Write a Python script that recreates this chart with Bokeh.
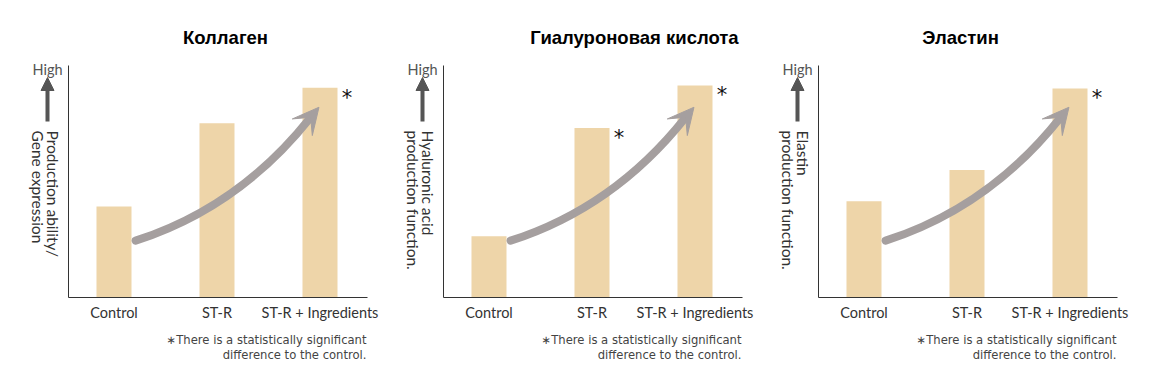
import math
from bokeh.plotting import figure
from bokeh.layouts import row
from bokeh.models import (Range1d, FixedTicker, Label, Arrow, NormalHead, VeeHead,
                          ColumnDataSource)
from bokeh.core.properties import value
from bokeh.embed import file_html
from bokeh.resources import INLINE

# ---- data ----
categories = ["Control", "ST-R", "ST-R + Ingredients"]
titles = ["Коллаген", "Гиалуроновая кислота", "Эластин"]
ylabels = [["Production ability/", "Gene expression"],
           ["Hyaluronic acid", "production function."],
           ["Elastin", "production function."]]
collagen = [39.2, 75.1, 90.4]
hyaluronic = [26.4, 73.1, 91.4]
elastin = [41.5, 55.0, 90.1]
values_all = [collagen, hyaluronic, elastin]
sig_collagen = [False, False, True]
sig_hyaluronic = [False, True, True]
sig_elastin = [False, False, True]
sig_all = [sig_collagen, sig_hyaluronic, sig_elastin]
footnote = ["\u2217There is a statistically significant", "difference to the control."]

# ---- styles / layout ----
BAR = "#eed5a9"
ARROW = "#a59f9f"
DARK = "#555555"
AX = "#333333"
H = 364
PX_X = 103.0    # pixels per category step
PX_Y = 2.32     # pixels per y unit
X0, X1 = -0.4417, 2.4612   # axis extent (data)
AXIS_BOTTOM = 297           # page y of y=0
title_x = [157, 191, 142]
# decorative trend arrow (start, control, shaft end, tip) in data units
ARR_X = [0.21, 1.21, 1.90, 1.99]
ARR_Y = [24.5, 38.8, 77.2, 82.0]

xpos = list(range(len(categories)))
figs = []
for i in range(3):
    axl = 68 if i == 0 else 60          # axis pixel offset inside this figure
    W = 383 if i == 0 else 375
    xs = X0 - axl / PX_X
    xr = Range1d(xs, xs + W / PX_X)
    yr = Range1d(-(H - AXIS_BOTTOM) / PX_Y, AXIS_BOTTOM / PX_Y)
    p = figure(width=W, height=H, x_range=xr, y_range=yr,
               output_backend="svg", toolbar_location=None,
               min_border=0, min_border_left=0, min_border_right=0,
               min_border_top=0, min_border_bottom=0)
    p.outline_line_color = None
    p.xgrid.visible = False
    p.ygrid.visible = False
    p.background_fill_color = "white"
    p.border_fill_color = "white"

    xa = p.xaxis[0]
    xa.fixed_location = 0
    xa.bounds = (X0, X1)
    xa.ticker = FixedTicker(ticks=xpos)
    xa.major_label_overrides = {k: c for k, c in zip(xpos, categories)}
    xa.major_tick_line_color = None
    xa.minor_tick_line_color = None
    xa.major_tick_out = 0
    xa.minor_tick_out = 0
    xa.axis_line_color = AX
    xa.major_label_text_font = "Lato"
    xa.major_label_text_font_size = "14.5px"
    xa.major_label_text_color = AX
    xa.major_label_standoff = 6

    ya = p.yaxis[0]
    ya.fixed_location = X0
    ya.bounds = (0, 100)
    ya.ticker = FixedTicker(ticks=[])
    ya.major_tick_line_color = None
    ya.minor_tick_line_color = None
    ya.major_tick_out = 0
    ya.minor_tick_out = 0
    ya.axis_line_color = AX
    ya.major_label_text_font_size = "0px"

    vals = values_all[i]
    src = ColumnDataSource(dict(x=xpos, top=vals))
    p.vbar(x="x", top="top", width=0.34, bottom=0, source=src, fill_color=BAR, line_color=None)

    sx = [x + 0.21 for x, s in zip(xpos, sig_all[i]) if s]
    sy = [v for v, s in zip(vals, sig_all[i]) if s]
    p.text(x=sx, y=sy, text=["*"] * len(sx), text_font=value("DejaVu Sans"),
           text_font_size="21px", text_align="left", text_baseline="top", text_color="#111111",
           x_offset=0, y_offset=-2)

    # curved trend arrow
    p.quadratic(x0=[ARR_X[0]], y0=[ARR_Y[0]], x1=[ARR_X[2]], y1=[ARR_Y[2]],
                cx=[ARR_X[1]], cy=[ARR_Y[1]], line_color=ARROW, line_width=8, line_cap="round")
    p.add_layout(Arrow(x_start=ARR_X[2], y_start=ARR_Y[2], x_end=ARR_X[3], y_end=ARR_Y[3],
                       line_alpha=0, line_width=1,
                       end=VeeHead(size=26, fill_color=ARROW, line_color=ARROW)))

    # title
    p.add_layout(Label(x=axl + title_x[i], y=H - 37, x_units="screen", y_units="screen",
                       text=titles[i], text_font="Liberation Sans", text_font_style="bold",
                       text_font_size="18.5px", text_align="center", text_baseline="middle",
                       text_color="#000000"))
    # High + small arrow
    p.add_layout(Label(x=axl - 21, y=H - 69, x_units="screen", y_units="screen", text="High",
                       text_font="Lato", text_font_size="14.5px", text_align="center",
                       text_baseline="middle", text_color=DARK))
    # rotated y label (two lines)
    for lx, txt in zip([-16, -31], ylabels[i]):
        p.add_layout(Label(x=axl + lx, y=H - 130, x_units="screen", y_units="screen", text=txt,
                           angle=-math.pi / 2, text_font="Lato", text_font_size="15.5px",
                           text_align="left", text_baseline="middle", text_color="#333333"))
    # footnote
    for ly, txt in zip([339, 354], footnote):
        p.add_layout(Label(x=axl + 298, y=H - ly, x_units="screen", y_units="screen", text=txt,
                           text_font="DejaVu Sans", text_font_size="11.6px", text_align="right",
                           text_baseline="middle", text_color="#444444"))
    p.add_layout(Arrow(x_start=axl - 21, y_start=H - 121, x_end=axl - 21, y_end=H - 77,
                       start_units="screen", end_units="screen", line_color=DARK, line_width=4,
                       end=NormalHead(size=13, fill_color=DARK, line_color=DARK)))
    figs.append(p)

layout = row(*figs)
open("out.html", "w").write(file_html(layout, INLINE))
